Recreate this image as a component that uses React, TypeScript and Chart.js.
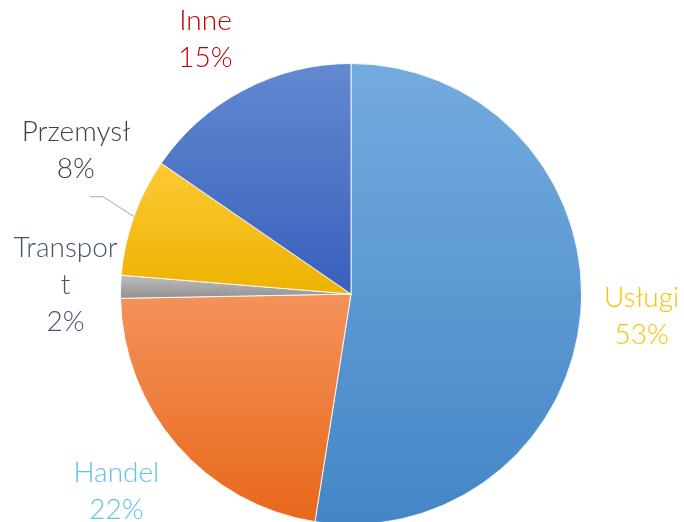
import React, { useEffect, useRef } from "react";
import { Chart, registerables } from "chart.js";

Chart.register(...registerables);

const categories = ["Usługi", "Handel", "Transport", "Przemysł", "Inne"];
const values = [52.5, 22.2, 1.6, 8.3, 15.4];
const labelLines = [["Usługi"], ["Handel"], ["Transpor", "t"], ["Przemysł"], ["Inne"]];
const topColors = ["#74ABDF", "#F4925A", "#BEBEBE", "#FFC935", "#6289D0"];
const bottomColors = ["#4486C6", "#E8681B", "#929292", "#ECB300", "#3860BD"];
const labelColors = ["#FFC000", "#62C2EA", "#44546A", "#404040", "#C00000"];
// per-label radial distance beyond radius and angle shift (degrees)
const labelDist = [61, 76, 55, 80, 63];
const labelShift = [0, 1, 0, 8, -2];

const gradientPlugin = {
  id: "sliceGradient",
  beforeDatasetsDraw(chart: any) {
    const ctx = chart.ctx;
    const meta = chart.getDatasetMeta(0);
    meta.data.forEach((arc: any, i: number) => {
      const { x, y, outerRadius, startAngle, endAngle } = arc.getProps(
        ["x", "y", "outerRadius", "startAngle", "endAngle"],
        true
      );
      const ys = [y, y + Math.sin(startAngle) * outerRadius, y + Math.sin(endAngle) * outerRadius];
      for (let k = -4; k <= 4; k++) {
        const a = k * Math.PI / 2 + Math.PI / 2;
        const aa = -Math.PI / 2 + k * Math.PI / 2;
        [a, aa].forEach((ang) => {
          if (ang > startAngle && ang < endAngle) ys.push(y + Math.sin(ang) * outerRadius);
        });
      }
      const top = Math.min(...ys);
      const bot = Math.max(...ys);
      const g = ctx.createLinearGradient(0, top, 0, bot);
      g.addColorStop(0, topColors[i]);
      g.addColorStop(1, bottomColors[i]);
      arc.options.backgroundColor = g;
    });
  },
};

const labelPlugin = {
  id: "outerLabels",
  afterDatasetsDraw(chart: any) {
    const ctx = chart.ctx;
    const meta = chart.getDatasetMeta(0);
    const total = values.reduce((a, b) => a + b, 0);
    ctx.save();
    ctx.font = "300 28px Lato";
    ctx.textAlign = "center";
    ctx.textBaseline = "middle";
    const lh = 37;
    meta.data.forEach((arc: any, i: number) => {
      const { x, y, outerRadius, startAngle, endAngle } = arc.getProps(
        ["x", "y", "outerRadius", "startAngle", "endAngle"],
        true
      );
      const mid = (startAngle + endAngle) / 2;
      const ang = mid + (labelShift[i] * Math.PI) / 180;
      const d = outerRadius + labelDist[i];
      const cx = x + Math.cos(ang) * d;
      const cy = y + Math.sin(ang) * d;
      const lines = [...labelLines[i], Math.round((values[i] / total) * 100) + "%"];
      const y0 = cy - ((lines.length - 1) * lh) / 2;
      ctx.fillStyle = labelColors[i];
      lines.forEach((t, j) => ctx.fillText(t, cx, y0 + j * lh));
      if (i === 3) {
        // leader line
        const ex = x + Math.cos(mid) * outerRadius;
        const ey = y + Math.sin(mid) * outerRadius;
        const ly = y0 + (lines.length - 1) * lh + 28;
        ctx.strokeStyle = "#AFBCCB";
        ctx.lineWidth = 1.2;
        ctx.beginPath();
        ctx.moveTo(cx + 14, ly);
        ctx.lineTo(cx + 27, ly);
        ctx.lineTo(ex, ey);
        ctx.stroke();
      }
    });
    ctx.restore();
  },
};

export default function App() {
  const ref = useRef<HTMLCanvasElement>(null);
  useEffect(() => {
    document.body.style.margin = "0";
    const chart = new Chart(ref.current!, {
      type: "pie",
      data: {
        labels: categories,
        datasets: [
          {
            data: values,
            backgroundColor: topColors,
            borderColor: "rgba(255,255,255,0.85)",
            borderWidth: 1,
          },
        ],
      },
      options: {
        responsive: false,
        animation: false,
        rotation: 0,
        layout: { padding: { top: 63, bottom: 15, left: 120, right: 102 } },
        plugins: { legend: { display: false }, tooltip: { enabled: false } },
      },
      plugins: [gradientPlugin, labelPlugin],
    });
    return () => chart.destroy();
  }, []);
  return (
    <div style={{ width: 684, height: 522, overflow: "hidden", background: "#fff" }}>
      <canvas ref={ref} width={684} height={540} style={{ display: "block" }} />
    </div>
  );
}
